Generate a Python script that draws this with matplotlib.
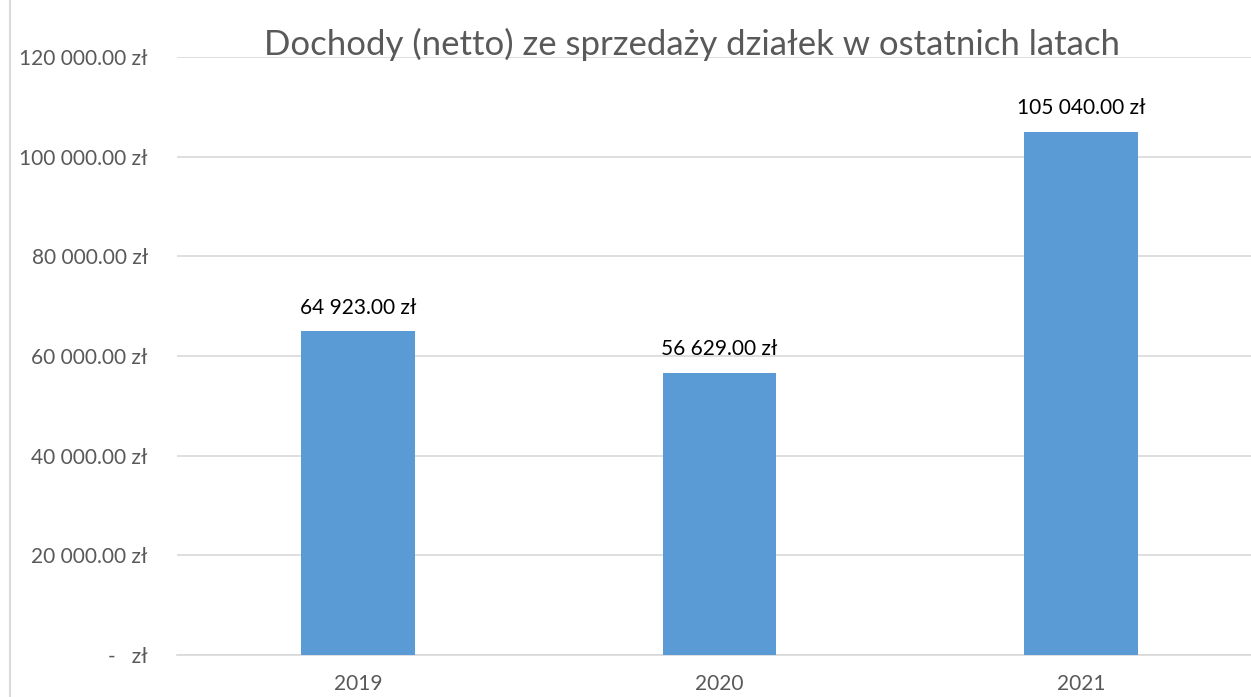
import matplotlib.pyplot as plt
from matplotlib.lines import Line2D

years = ['2019', '2020', '2021']
income = [64923.00, 56629.00, 105040.00]
yticks = [0, 20000, 40000, 60000, 80000, 100000, 120000]
ytick_labels = ['-   zł', '20 000.00 zł', '40 000.00 zł', '60 000.00 zł',
                '80 000.00 zł', '100 000.00 zł', '120 000.00 zł']
bar_labels = ['64 923.00 zł', '56 629.00 zł', '105 040.00 zł']

plt.rcParams['font.family'] = ['Lato', 'DejaVu Sans']

W, H = 1251, 697
fig = plt.figure(figsize=(W / 100, H / 100), dpi=100)
ax = fig.add_axes([177 / W, 42 / H, 1085 / W, 598 / H])

x = range(len(years))
ax.bar(x, income, width=0.315, color='#5B9BD5', zorder=3)
ax.set_xlim(-0.5, 2.5)
ax.set_ylim(0, 120000)
ax.set_yticks(yticks)
ax.set_yticklabels(ytick_labels)
ax.set_xticks(list(x))
ax.set_xticklabels(years)
ax.tick_params(axis='y', length=0, pad=21, labelsize=15, labelcolor='#595959')
ax.tick_params(axis='x', length=0, pad=14, labelsize=15, labelcolor='#595959')
ax.grid(axis='y', color='#D9D9D9', linewidth=1.2, zorder=0)
for s in ['top', 'right', 'left']:
    ax.spines[s].set_visible(False)
ax.spines['bottom'].set_color('#D9D9D9')
ax.spines['bottom'].set_linewidth(1.2)

for i, v in enumerate(income):
    ax.annotate(bar_labels[i], (i, v), xytext=(0, 10), textcoords='offset points',
                ha='center', va='bottom', fontsize=15, color='black')

fig.text(692 / W, 1 - 44 / H, 'Dochody (netto) ze sprzedaży działek w ostatnich latach',
         ha='center', va='center', fontsize=25, color='#595959')

fig.add_artist(Line2D([10 / W, 10 / W], [0, 1], color='#D9D9D9', linewidth=1.5,
                      transform=fig.transFigure))

fig.savefig('out.png', dpi=100)
